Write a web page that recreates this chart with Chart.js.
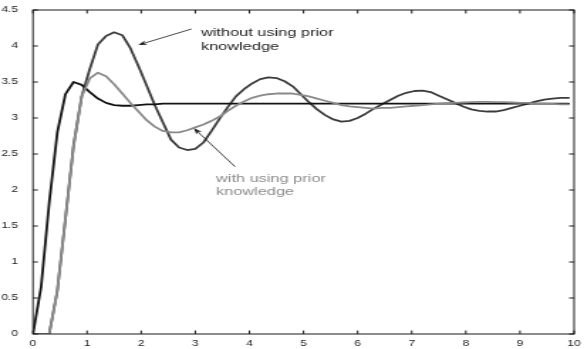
<!DOCTYPE html>
<html><head><meta charset="utf-8">
<script src="https://cdn.jsdelivr.net/npm/chart.js@4"></script>
<style>
html,body{margin:0;padding:0;background:#fff;overflow:hidden;width:584px;height:349px}
#wrap{position:absolute;left:0;top:0;width:411px;height:349px;transform:scaleX(1.42092);transform-origin:0 0}
</style></head><body>
<div id="wrap"><canvas id="c"></canvas></div>
<script>
// sample times
const xValues = [0,0.15,0.3,0.45,0.6,0.75,0.9,1.05,1.2,1.35,1.5,1.65,1.8,1.95,2.1,2.25,2.4,2.55,2.7,2.85,
  3.0,3.15,3.3,3.45,3.6,3.75,3.9,4.05,4.2,4.35,4.5,4.65,4.8,4.95,5.1,5.25,5.4,5.55,5.7,5.85,
  6.0,6.15,6.3,6.45,6.6,6.75,6.9,7.05,7.2,7.35,7.5,7.65,7.8,7.95,8.1,8.25,8.4,8.55,8.7,8.85,
  9.0,9.15,9.3,9.45,9.6,9.75,9.9];
// black fast curve
const fastCurve = [0,0.65,1.82,2.80,3.33,3.50,3.46,3.36,3.27,3.21,3.18,3.17,3.17,3.18,3.19,3.19,3.20,3.20,3.20,3.20,
  3.20,3.20,3.20,3.20,3.20,3.20,3.20,3.20,3.20,3.20,3.20,3.20,3.20,3.20,3.20,3.20,3.20,3.20,3.20,3.20,
  3.20,3.20,3.20,3.20,3.20,3.20,3.20,3.20,3.20,3.20,3.20,3.20,3.20,3.20,3.20,3.20,3.20,3.20,3.20,3.20,
  3.20,3.20,3.20,3.20,3.20,3.20,3.20];
// without using prior knowledge
const withoutPrior = [0,0,0,0.60,1.60,2.62,3.30,3.68,4.02,4.14,4.19,4.15,3.97,3.72,3.45,3.18,2.94,2.70,2.59,2.555,
  2.57,2.66,2.82,2.99,3.15,3.30,3.40,3.48,3.54,3.565,3.555,3.51,3.44,3.33,3.22,3.12,3.04,2.98,2.95,2.96,
  3.00,3.06,3.13,3.19,3.25,3.31,3.35,3.375,3.38,3.36,3.31,3.26,3.21,3.16,3.12,3.10,3.09,3.09,3.11,3.14,
  3.17,3.20,3.23,3.255,3.27,3.28,3.28];
// with using prior knowledge
const withPrior = [0,0,0,0.60,1.60,2.60,3.30,3.55,3.63,3.58,3.47,3.34,3.21,3.09,2.97,2.88,2.82,2.80,2.80,2.83,
  2.87,2.91,2.96,3.02,3.10,3.17,3.23,3.28,3.31,3.33,3.34,3.34,3.34,3.32,3.30,3.27,3.24,3.21,3.18,3.16,
  3.15,3.14,3.13,3.14,3.14,3.15,3.16,3.17,3.18,3.19,3.20,3.205,3.21,3.215,3.22,3.225,3.225,3.22,3.22,3.215,
  3.21,3.21,3.20,3.20,3.195,3.19,3.19];
const xTickValues = [0,1,2,3,4,5,6,7,8,9,10];
const yTickValues = [0,0.5,1,1.5,2,2.5,3,3.5,4,4.5];

const pts = ys => xValues.map((x,i)=>({x:x,y:ys[i]}));

const annotations = [
  {lines:['without using prior','knowledge'], x:3.105, ys:[4.14,3.944], color:'#1e1e1e',
   from:[2.93,4.236], to:[1.946,4.014]},
  {lines:['with using prior','knowledge'], x:3.383, ys:[2.115,1.926], color:'#8c8c8c',
   from:[3.734,2.324], to:[2.976,2.857]}
];

const framePlugin = {
  id:'frame',
  afterDraw(chart){
    const ctx = chart.ctx, a = chart.chartArea;
    const xs = chart.scales.x, ys = chart.scales.y;
    ctx.save();
    ctx.strokeStyle = '#1a1a1a';
    ctx.lineWidth = 1;
    ctx.strokeRect(a.left, a.top, a.right - a.left, a.bottom - a.top);
    ctx.beginPath();
    xTickValues.forEach(v=>{
      const p = xs.getPixelForValue(v);
      ctx.moveTo(p, a.bottom); ctx.lineTo(p, a.bottom - 3.5);
      ctx.moveTo(p, a.top); ctx.lineTo(p, a.top + 3.5);
    });
    yTickValues.forEach(v=>{
      const p = ys.getPixelForValue(v);
      ctx.moveTo(a.left, p); ctx.lineTo(a.left + 3.5, p);
      ctx.moveTo(a.right, p); ctx.lineTo(a.right - 3.5, p);
    });
    ctx.stroke();
    // annotations
    annotations.forEach(an=>{
      ctx.fillStyle = an.color;
      ctx.font = '11.5px "Liberation Sans", Arial, sans-serif';
      ctx.textAlign = 'left'; ctx.textBaseline = 'alphabetic';
      an.lines.forEach((t,i)=>{
        ctx.fillText(t, xs.getPixelForValue(an.x), ys.getPixelForValue(an.ys[i]));
      });
      const x1 = xs.getPixelForValue(an.from[0]), y1 = ys.getPixelForValue(an.from[1]);
      const x2 = xs.getPixelForValue(an.to[0]), y2 = ys.getPixelForValue(an.to[1]);
      ctx.strokeStyle = '#1a1a1a'; ctx.fillStyle = '#1a1a1a'; ctx.lineWidth = 0.8;
      const ang = Math.atan2(y2-y1, x2-x1);
      const L = 6, W = 2.4;
      ctx.beginPath();
      ctx.moveTo(x1,y1);
      ctx.lineTo(x2 - Math.cos(ang)*L*0.7, y2 - Math.sin(ang)*L*0.7);
      ctx.stroke();
      ctx.beginPath();
      ctx.moveTo(x2,y2);
      ctx.lineTo(x2 - Math.cos(ang)*L + Math.sin(ang)*W, y2 - Math.sin(ang)*L - Math.cos(ang)*W);
      ctx.lineTo(x2 - Math.cos(ang)*L*0.7, y2 - Math.sin(ang)*L*0.7);
      ctx.lineTo(x2 - Math.cos(ang)*L - Math.sin(ang)*W, y2 - Math.sin(ang)*L + Math.cos(ang)*W);
      ctx.closePath();
      ctx.fill();
    });
    ctx.restore();
  }
};

Chart.defaults.font.family = '"Liberation Sans", Arial, sans-serif';
Chart.defaults.font.size = 8.5;
Chart.defaults.color = '#222';

new Chart(document.getElementById('c'), {
  type:'line',
  data:{datasets:[
    {label:'with using prior knowledge', data:pts(withPrior), borderColor:'#8a8a8a', borderWidth:1.8},
    {label:'fast', data:pts(fastCurve), borderColor:'#121212', borderWidth:1.8},
    {label:'without using prior knowledge', data:pts(withoutPrior), borderColor:'#3c3c3c', borderWidth:1.8}
  ]},
  options:{
    responsive:true, maintainAspectRatio:false, animation:false,
    parsing:false,
    elements:{point:{radius:0}, line:{tension:0, fill:false, borderJoinStyle:'round', borderCapStyle:'round'}},
    layout:{padding:{top:10, right:7, bottom:0, left:0}},
    plugins:{legend:{display:false}, tooltip:{enabled:false}},
    scales:{
      x:{type:'linear', min:0, max:10,
         afterBuildTicks: s => { s.ticks = xTickValues.map(v=>({value:v})); },
         afterFit: s => { s.height = 15; },
         grid:{display:false}, border:{display:false},
         ticks:{padding:-3, maxRotation:0, autoSkip:false, callback: v => String(v)}},
      y:{type:'linear', min:0, max:4.5,
         afterBuildTicks: s => { s.ticks = yTickValues.map(v=>({value:v})); },
         afterFit: s => { s.width = 23.2; },
         grid:{display:false}, border:{display:false},
         ticks:{padding:2.5, autoSkip:false, callback: v => String(v)}}
    }
  },
  plugins:[framePlugin]
});
</script>
</body></html>
